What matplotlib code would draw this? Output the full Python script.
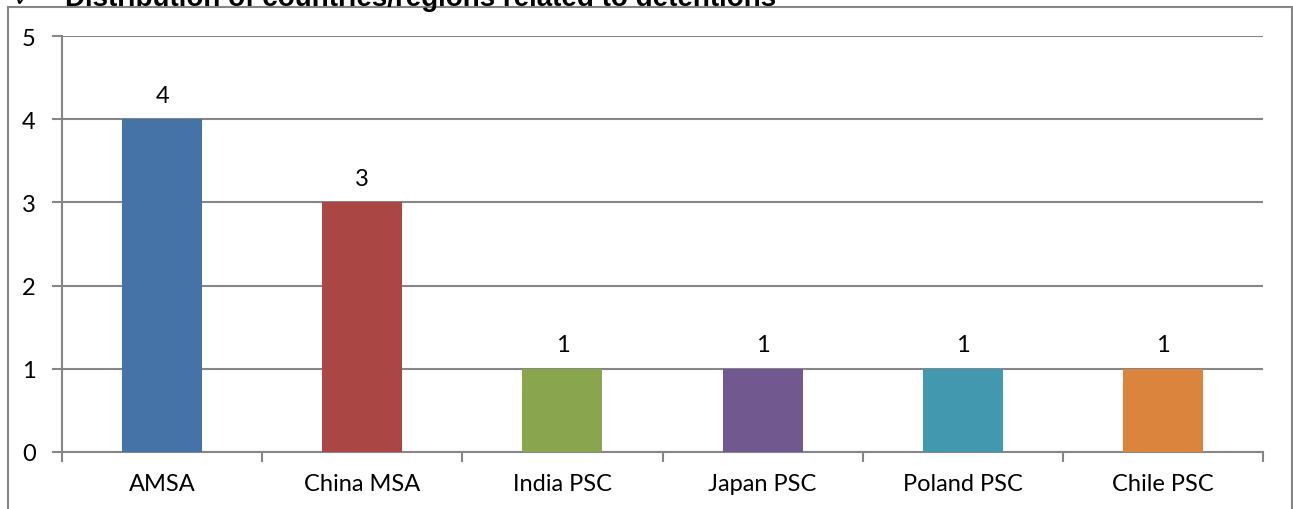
import matplotlib.pyplot as plt
from matplotlib.patches import Rectangle

categories = ["AMSA", "China MSA", "India PSC", "Japan PSC", "Poland PSC", "Chile PSC"]
counts = [4, 3, 1, 1, 1, 1]
colors = ["#4572A7", "#AA4643", "#89A54E", "#71588F", "#4198AF", "#DB843D"]
title = "Distribution of countries/regions related to detentions"

W, H = 1293, 510
fig = plt.figure(figsize=(W / 100, H / 100), dpi=100)
ax = fig.add_axes([62 / W, 1 - 453 / H, (1263 - 62) / W, (453 - 37) / H])

grid_c = "#868686"
fsize = 17
x = list(range(len(categories)))
ax.bar(x, counts, width=0.4, color=colors, zorder=3)
for xi, v in zip(x, counts):
    ax.text(xi, v + 0.21, str(v), ha="center", va="baseline", fontsize=fsize, family="Lato")

ax.set_xlim(-0.5, len(categories) - 0.5)
ax.set_ylim(0, 5)
ax.set_yticks(range(6))
ax.yaxis.grid(True, color=grid_c, linewidth=1.5, zorder=0)
ax.set_xticks(x)
ax.set_xticklabels(categories, fontsize=fsize, family="Lato")
ax.set_xticks([i - 0.5 for i in range(len(categories) + 1)], minor=True)
ax.tick_params(axis="x", which="major", length=0, pad=15)
ax.tick_params(axis="x", which="minor", length=7, width=1.5, color=grid_c)
ax.tick_params(axis="y", length=7, width=1.5, color=grid_c, labelsize=fsize, pad=12)
for lab in ax.get_yticklabels():
    lab.set_family("Lato")
for s in ["top", "right"]:
    ax.spines[s].set_visible(False)
for s in ["left", "bottom"]:
    ax.spines[s].set_color(grid_c)
    ax.spines[s].set_linewidth(1.5)

# outer chart frame (runs off the bottom of the picture)
fig.patches.append(Rectangle((8 / W, -0.05), (1292 - 8) / W, 1.05 - 8 / H,
                             transform=fig.transFigure, fill=False,
                             edgecolor=grid_c, linewidth=1.5))

# heading, cut off at the very top as in the source page
fig.text(14 / W, 1 - 6 / H, "\u2713", fontsize=16, fontweight="bold",
         family="DejaVu Sans", va="baseline")
fig.text(65 / W, 1 - 6.5 / H, title, fontsize=20, fontweight="bold",
         family="Liberation Sans", va="baseline")

fig.savefig("out.png", dpi=100)
